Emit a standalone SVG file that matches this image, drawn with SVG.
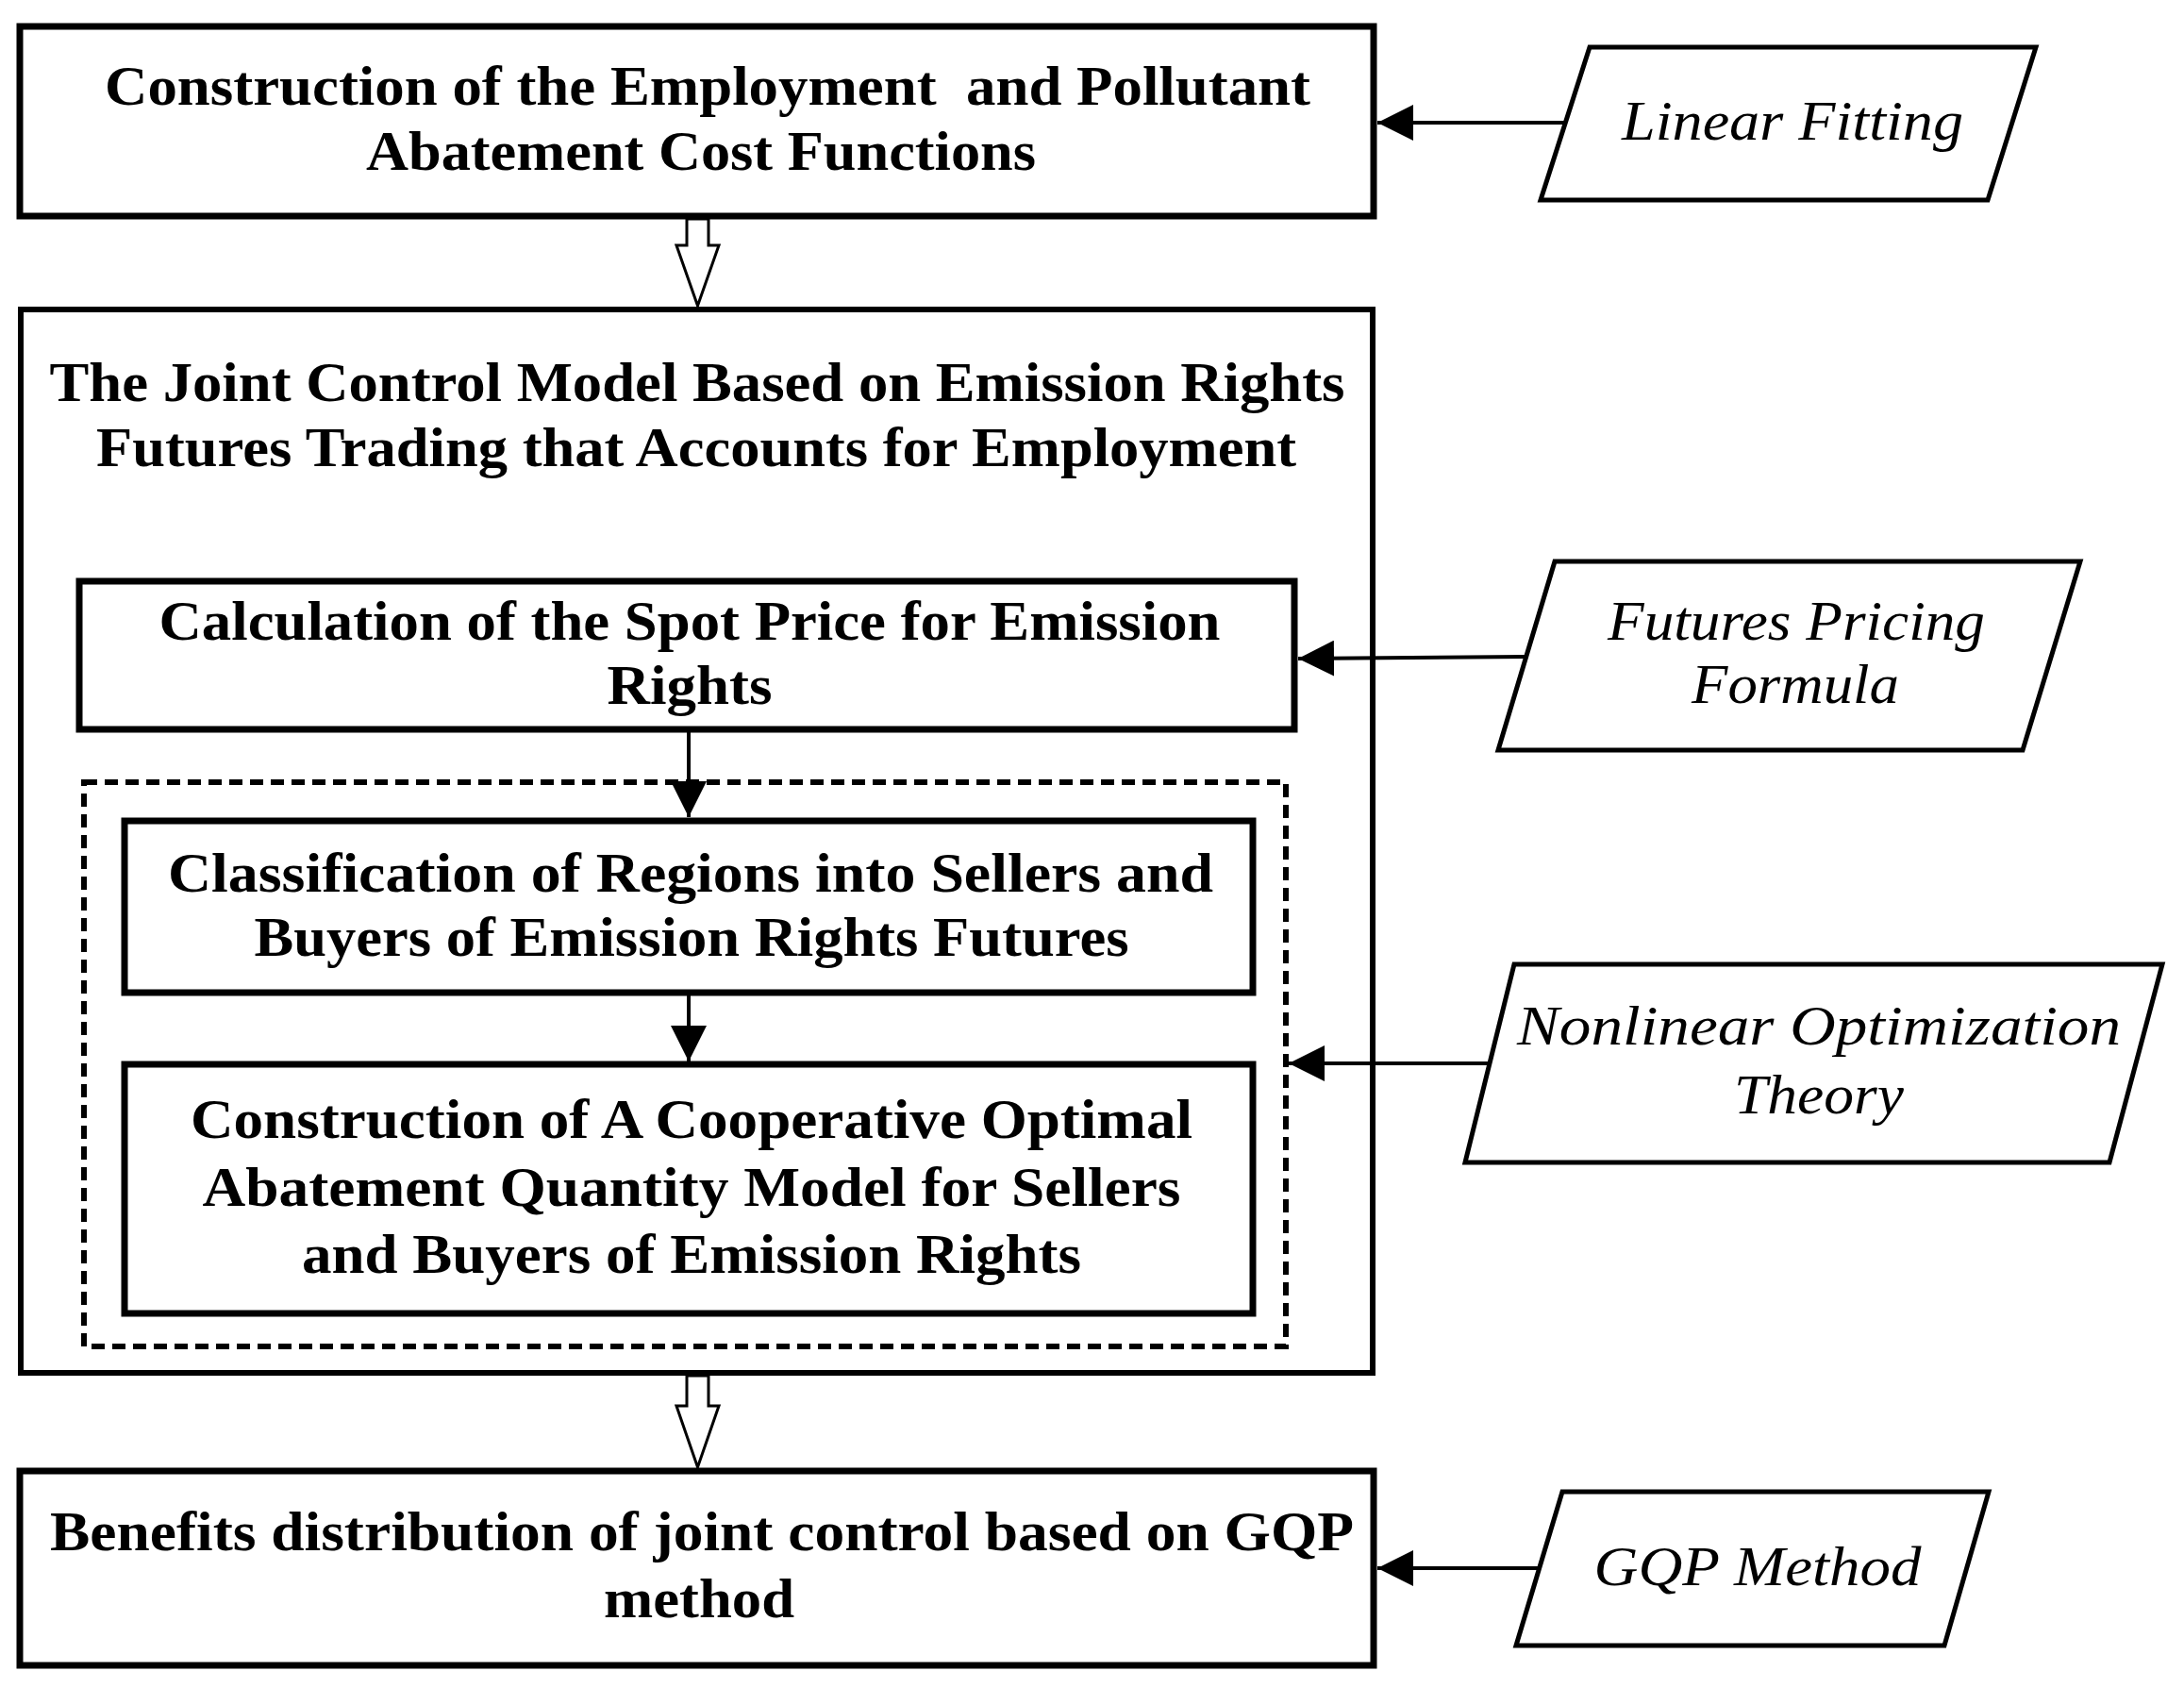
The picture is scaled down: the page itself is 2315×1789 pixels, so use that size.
<svg xmlns="http://www.w3.org/2000/svg" width="2315" height="1789" viewBox="0 0 2315 1789">
<style>
.box{fill:#fff;stroke:#000;stroke-width:7}
.outer{fill:#fff;stroke:#000;stroke-width:6}
.dash{fill:none;stroke:#000;stroke-width:6;stroke-dasharray:14 8}
.para{fill:#fff;stroke:#000;stroke-width:5;stroke-linejoin:miter}
.t{font-family:"Liberation Serif","Times New Roman",serif;font-weight:bold;font-size:59px;text-anchor:middle;fill:#000}
.ti{font-family:"Liberation Serif","Times New Roman",serif;font-style:italic;font-size:59px;text-anchor:middle;fill:#000}
.pre{white-space:pre}
.ln{stroke:#000;stroke-width:4;fill:none}
.hollow{fill:#fff;stroke:#000;stroke-width:3;stroke-linejoin:miter}
</style>
<defs>
<marker id="ah" markerUnits="userSpaceOnUse" viewBox="0 0 38 38" refX="38" refY="19" markerWidth="38" markerHeight="38" orient="auto">
<path d="M0,0 L38,19 L0,38 z" fill="#000"/>
</marker>
</defs>
<rect width="2315" height="1789" fill="#fff"/>

<g id="box-outer">
<rect class="outer" x="22" y="328" width="1433" height="1127"/>
<text class="t" x="739" y="425" textLength="1373" lengthAdjust="spacingAndGlyphs">The Joint Control Model Based on Emission Rights</text>
<text class="t" x="738" y="494" textLength="1272" lengthAdjust="spacingAndGlyphs">Futures Trading that Accounts for Employment</text>
</g>

<g id="box-cost">
<rect class="box" x="21" y="28" width="1435" height="201"/>
<text class="t pre" x="750" y="111" textLength="1278" lengthAdjust="spacingAndGlyphs" xml:space="preserve">Construction of the Employment  and Pollutant</text>
<text class="t" x="743" y="180" textLength="710" lengthAdjust="spacingAndGlyphs">Abatement Cost Functions</text>
</g>

<g id="box-spot">
<rect class="box" x="84" y="616" width="1288" height="157"/>
<text class="t" x="731" y="678" textLength="1125" lengthAdjust="spacingAndGlyphs">Calculation of the Spot Price for Emission</text>
<text class="t" x="731" y="746" textLength="175" lengthAdjust="spacingAndGlyphs">Rights</text>
</g>

<g id="group-dashed">
<rect class="dash" x="89" y="829" width="1274" height="598"/>
</g>

<g id="box-classify">
<rect class="box" x="132" y="870" width="1196" height="182"/>
<text class="t" x="732" y="945" textLength="1108" lengthAdjust="spacingAndGlyphs">Classification of Regions into Sellers and</text>
<text class="t" x="733" y="1013" textLength="927" lengthAdjust="spacingAndGlyphs">Buyers of Emission Rights Futures</text>
</g>

<g id="box-coop">
<rect class="box" x="132" y="1128" width="1196" height="264"/>
<text class="t" x="733" y="1206" textLength="1062" lengthAdjust="spacingAndGlyphs">Construction of A Cooperative Optimal</text>
<text class="t" x="733" y="1278" textLength="1037" lengthAdjust="spacingAndGlyphs">Abatement Quantity Model for Sellers</text>
<text class="t" x="733" y="1349" textLength="826" lengthAdjust="spacingAndGlyphs">and Buyers of Emission Rights</text>
</g>

<g id="box-benefits">
<rect class="box" x="21" y="1559" width="1435" height="206"/>
<text class="t" x="744" y="1643" textLength="1382" lengthAdjust="spacingAndGlyphs">Benefits distribution of joint control based on GQP</text>
<text class="t" x="741" y="1714" textLength="202" lengthAdjust="spacingAndGlyphs">method</text>
</g>

<g id="para-linear">
<polygon class="para" points="1685,50 2158,50 2107,212 1633,212"/>
<text class="ti" x="1900" y="148" textLength="362" lengthAdjust="spacingAndGlyphs">Linear Fitting</text>
</g>

<g id="para-futures">
<polygon class="para" points="1648,595 2205,595 2144,795 1588,795"/>
<text class="ti" x="1904" y="678" textLength="400" lengthAdjust="spacingAndGlyphs">Futures Pricing</text>
<text class="ti" x="1903" y="745" textLength="220" lengthAdjust="spacingAndGlyphs">Formula</text>
</g>

<g id="para-nonlinear">
<polygon class="para" points="1605,1022 2292,1022 2236,1232 1553,1232"/>
<text class="ti" x="1928" y="1107" textLength="640" lengthAdjust="spacingAndGlyphs">Nonlinear Optimization</text>
<text class="ti" x="1928" y="1180" textLength="180" lengthAdjust="spacingAndGlyphs">Theory</text>
</g>

<g id="para-gqp">
<polygon class="para" points="1656,1581 2108,1581 2061,1744 1607,1744"/>
<text class="ti" x="1863" y="1680" textLength="347" lengthAdjust="spacingAndGlyphs">GQP Method</text>
</g>

<g id="connectors">
<path class="hollow" d="M728,232 L751,232 L751,260 L762,260 L739.5,324 L717,260 L728,260 z"/>
<path class="hollow" d="M728,1458 L751,1458 L751,1490 L762,1490 L739.5,1555 L717,1490 L728,1490 z"/>
<line class="ln" x1="730" y1="776" x2="730" y2="866" marker-end="url(#ah)"/>
<line class="ln" x1="730" y1="1055" x2="730" y2="1125" marker-end="url(#ah)"/>
<line class="ln" x1="1659" y1="130" x2="1460" y2="130" marker-end="url(#ah)"/>
<line class="ln" x1="1617" y1="696" x2="1376" y2="698" marker-end="url(#ah)"/>
<line class="ln" x1="1580" y1="1127" x2="1366" y2="1127" marker-end="url(#ah)"/>
<line class="ln" x1="1633" y1="1662" x2="1460" y2="1662" marker-end="url(#ah)"/>
</g>
</svg>
